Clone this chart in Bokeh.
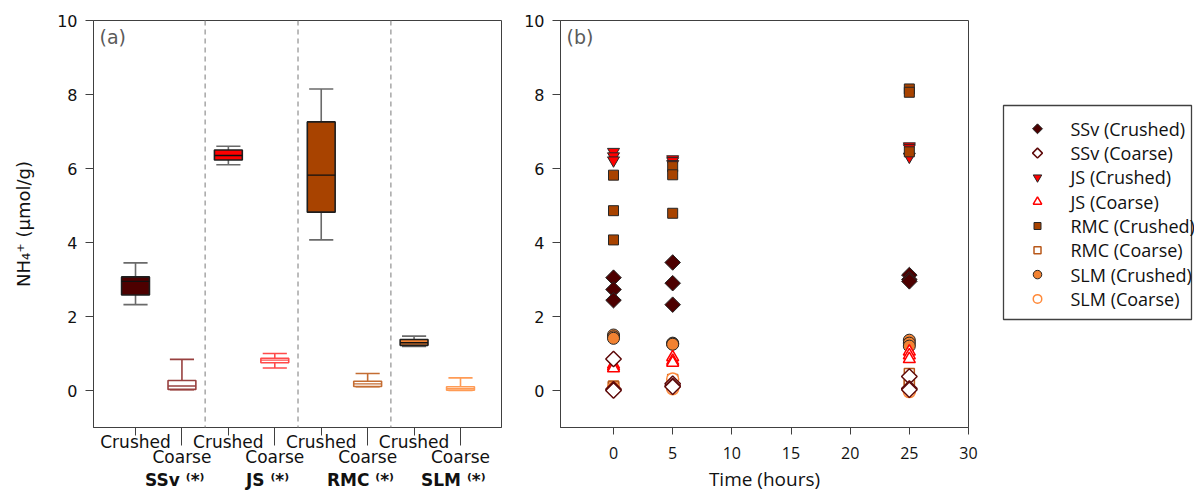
import numpy as np
from bokeh.plotting import figure
from bokeh.layouts import row
from bokeh.models import (Range1d, FixedTicker, Label, Span, ColumnDataSource,
                          CustomJSTickFormatter, LinearAxis)
from bokeh.core.properties import value
from bokeh.embed import file_html
from bokeh.resources import INLINE

# ------------------------------------------------------------------ data
materials = ["SSv", "JS", "RMC", "SLM"]
textures = ["Crushed", "Coarse"]
group_note = "\u207d*\u207e"   # (*) in superscript

# panel (a) box statistics, order: SSv Cr, SSv Co, JS Cr, JS Co, RMC Cr, RMC Co, SLM Cr, SLM Co
box_upper  = [3.45, 0.84, 6.60, 1.00, 8.15, 0.46, 1.47, 0.34]
box_q3     = [3.07, 0.27, 6.50, 0.87, 7.26, 0.25, 1.38, 0.10]
box_median = [2.95, 0.12, 6.35, 0.82, 5.82, 0.18, 1.29, 0.05]
box_q1     = [2.58, 0.03, 6.23, 0.75, 4.82, 0.11, 1.22, 0.01]
box_lower  = [2.32, 0.02, 6.10, 0.61, 4.07, 0.10, 1.19, 0.00]

# panel (b) replicate values at each time
times = [0, 5, 25]
ssv_crushed = [[3.05, 2.73, 2.44], [3.46, 2.90, 2.32], [3.12, 3.00, 2.95]]
ssv_coarse  = [[0.85, 0.03, 0.00], [0.18, 0.12, 0.10], [0.38, 0.05, 0.02]]
js_crushed  = [[6.45, 6.33, 6.22], [6.25, 6.20, 6.12], [6.60, 6.55, 6.32]]
js_coarse   = [[0.70, 0.65, 0.60], [0.90, 0.80, 0.75], [1.05, 0.95, 0.85]]
rmc_crushed = [[5.82, 4.86, 4.07], [6.05, 5.83, 4.79], [8.15, 8.06, 6.45]]
rmc_coarse  = [[0.12, 0.10, 0.10], [0.30, 0.20, 0.17], [0.46, 0.28, 0.15]]
slm_crushed = [[1.50, 1.45, 1.41], [1.28, 1.26, 1.25], [1.36, 1.28, 1.20]]
slm_coarse  = [[0.06, 0.05, 0.03], [0.31, 0.08, 0.05], [0.02, 0.00, -0.03]]

y_ticks = [0, 2, 4, 6, 8, 10]
time_ticks = [0, 5, 10, 15, 20, 25, 30]

# ------------------------------------------------------------------ styles
crushed_fill = {"SSv": "#4d0000", "JS": "#ff0000", "RMC": "#a84300", "SLM": "#f28232"}
coarse_box = {"SSv": "#98403f", "JS": "#ff4a4a", "RMC": "#c46d33", "SLM": "#ff9b55"}
coarse_mark = {"SSv": "#5e0a0a", "JS": "#ff0000", "RMC": "#b8581a", "SLM": "#ff8a3a"}
# marker, angle, plot size, legend size
marker_crushed = {"SSv": ("square", np.pi / 4, 11, 7), "JS": ("inverted_triangle", 0, 12, 8.5),
                  "RMC": ("square", 0, 10, 7), "SLM": ("circle", 0, 12, 8.5)}
marker_coarse = {"SSv": ("square", np.pi / 4, 11, 7), "JS": ("triangle", 0, 12, 8.5),
                 "RMC": ("square", 0, 10, 7), "SLM": ("circle", 0, 12, 8.5)}
AX = "#404040"
TXT = "#111111"
FONT_V = "DejaVu Sans"
FONT_C = "Open Sans"

Y_LO, Y_HI = -1, 10
H = 494
MB_TOP, MB_BOTTOM = 20, 67
XA_LO, XA_HI = 0.095, 8.883
XB_LO, XB_HI = -4.48, 30
FRAME_H = H - MB_TOP - MB_BOTTOM


def y_from_top(px):   # px measured downward from the frame top
    return Y_HI - px * (Y_HI - Y_LO) / FRAME_H


def style_y_axis(p):
    p.yaxis.ticker = FixedTicker(ticks=y_ticks)
    p.yaxis.major_tick_out = 8
    p.yaxis.major_tick_in = 0
    p.yaxis.minor_tick_line_color = None
    p.yaxis.major_tick_line_color = AX
    p.yaxis.axis_line_color = AX
    p.yaxis.major_label_text_font = FONT_V
    p.yaxis.major_label_text_font_size = "16px"
    p.yaxis.major_label_text_color = TXT
    p.yaxis.major_label_standoff = 8


def base_fig(width, x_range, mbl, mbr):
    p = figure(width=width, height=H, x_range=x_range, y_range=Range1d(Y_LO, Y_HI),
               output_backend="svg", toolbar_location=None,
               min_border_left=mbl, min_border_right=mbr, min_border_top=MB_TOP,
               min_border_bottom=MB_BOTTOM)
    p.xgrid.grid_line_color = None
    p.ygrid.grid_line_color = None
    p.outline_line_color = AX
    p.outline_line_width = 1
    return p

# ------------------------------------------------------------------ panel (a)
p1 = base_fig(520, Range1d(XA_LO, XA_HI), 93, 19)

pos = np.arange(1, 9)
mats = [m for m in materials for _ in textures]
texs = [t for _ in materials for t in textures]
fills = [crushed_fill[m] if t == "Crushed" else "white" for m, t in zip(mats, texs)]
edges = ["#1e1e1e" if t == "Crushed" else coarse_box[m] for m, t in zip(mats, texs)]
wcols = ["#6a6a6a" if t == "Crushed" else coarse_box[m] for m, t in zip(mats, texs)]
mcols = ["#111111" if t == "Crushed" else coarse_box[m] for m, t in zip(mats, texs)]

src = ColumnDataSource(dict(x=pos, up=box_upper, q3=box_q3, med=box_median, q1=box_q1, lo=box_lower,
                            cl=pos - 0.26, cr=pos + 0.26, bl=pos - 0.3, br=pos + 0.3,
                            fill=fills, edge=edges, wcol=wcols, mcol=mcols))

for sep in (pos[1:-1:2] + 0.5):
    p1.add_layout(Span(location=sep, dimension="height", line_color="#a6a6a6",
                       line_width=1.5, line_dash="5 4"))

p1.segment("x", "q3", "x", "up", source=src, line_color="wcol", line_width=1.6)
p1.segment("x", "q1", "x", "lo", source=src, line_color="wcol", line_width=1.6)
p1.segment("cl", "up", "cr", "up", source=src, line_color="wcol", line_width=1.6)
p1.segment("cl", "lo", "cr", "lo", source=src, line_color="wcol", line_width=1.6)
p1.vbar(x="x", width=0.6, bottom="q1", top="q3", source=src, fill_color="fill",
        line_color="edge", line_width=1.6)
p1.segment("bl", "med", "br", "med", source=src, line_color="mcol", line_width=1.4)

crushed_pos = [float(x) for x, t in zip(pos, texs) if t == "Crushed"]
coarse_pos = [float(x) for x, t in zip(pos, texs) if t == "Coarse"]

# first axis: Crushed labels, short ticks at crushed, long (minor) ticks at coarse
ax = p1.xaxis[0]
ax.ticker = FixedTicker(ticks=crushed_pos, minor_ticks=coarse_pos)
ax.formatter = CustomJSTickFormatter(args=dict(names=["Crushed"] * len(crushed_pos)),
                                     code="return names[index]")
ax.major_tick_out = 8
ax.major_tick_in = 0
ax.minor_tick_out = 18
ax.minor_tick_in = 0
ax.major_tick_line_color = AX
ax.minor_tick_line_color = AX
ax.axis_line_color = AX
ax.major_label_text_font = FONT_V
ax.major_label_text_font_size = "17px"
ax.major_label_text_color = TXT
ax.major_label_standoff = -14

# second axis: Coarse labels
ax2 = LinearAxis(ticker=FixedTicker(ticks=coarse_pos, minor_ticks=[]),
                 formatter=CustomJSTickFormatter(args=dict(names=["Coarse"] * len(coarse_pos)),
                                                 code="return names[index]"),
                 axis_line_color=None, major_tick_line_color=None, minor_tick_line_color=None,
                 major_tick_out=0, major_tick_in=0, minor_tick_out=0, minor_tick_in=0,
                 major_label_text_font=FONT_V, major_label_text_font_size="17px",
                 major_label_text_color=TXT, major_label_standoff=-8)
p1.add_layout(ax2, "below")

# third axis: material group labels
group_centers = [float(pos[2 * i] + pos[2 * i + 1]) / 2 for i in range(len(materials))]
shift = 16 * (XA_HI - XA_LO) / 408   # label sits a little right of the group centre
ax3 = LinearAxis(ticker=FixedTicker(ticks=[g + shift for g in group_centers], minor_ticks=[]),
                 formatter=CustomJSTickFormatter(args=dict(names=[f"{m} {group_note}" for m in materials]),
                                                 code="return names[index]"),
                 axis_line_color=None, major_tick_line_color=None, minor_tick_line_color=None,
                 major_tick_out=0, major_tick_in=0, minor_tick_out=0, minor_tick_in=0,
                 major_label_text_font=FONT_V, major_label_text_font_size="17px",
                 major_label_text_font_style="bold",
                 major_label_text_color=TXT, major_label_standoff=0)
p1.add_layout(ax3, "below")

style_y_axis(p1)
p1.yaxis.axis_label = "NH\u2084\u207a (\u00b5mol/g)"
p1.yaxis.axis_label_text_font = FONT_V
p1.yaxis.axis_label_text_font_size = "18px"
p1.yaxis.axis_label_text_font_style = "normal"
p1.yaxis.axis_label_text_color = TXT
p1.yaxis.axis_label_standoff = 20

p1.add_layout(Label(x=XA_LO + 6 * (XA_HI - XA_LO) / 408, y=y_from_top(16), text="(a)",
                    text_align="left", text_baseline="middle", text_font=FONT_V,
                    text_font_size="19px", text_color="#5a5a5a"))

# ------------------------------------------------------------------ panel (b)
p2 = base_fig(470, Range1d(XB_LO, XB_HI), 40, 22)

series = {
    ("SSv", "Crushed"): ssv_crushed, ("SSv", "Coarse"): ssv_coarse,
    ("JS", "Crushed"): js_crushed, ("JS", "Coarse"): js_coarse,
    ("RMC", "Crushed"): rmc_crushed, ("RMC", "Coarse"): rmc_coarse,
    ("SLM", "Crushed"): slm_crushed, ("SLM", "Coarse"): slm_coarse,
}
draw_order = [("JS", "Crushed"), ("RMC", "Crushed"), ("SSv", "Crushed"), ("SLM", "Crushed"),
              ("JS", "Coarse"), ("RMC", "Coarse"), ("SLM", "Coarse"), ("SSv", "Coarse")]


def mstyle(m, t):
    if t == "Crushed":
        mk, ang, sz, lsz = marker_crushed[m]
        return mk, ang, sz, lsz, crushed_fill[m], "#262626", 1.0
    mk, ang, sz, lsz = marker_coarse[m]
    return mk, ang, sz, lsz, "white", coarse_mark[m], 1.5


for m, t in draw_order:
    vals = series[(m, t)]
    xs = [tt for tt, reps in zip(times, vals) for _ in reps]
    ys = [v for reps in vals for v in reps]
    mk, ang, sz, lsz, fc, lc, lw = mstyle(m, t)
    p2.scatter(x=xs, y=ys, marker=mk, angle=ang, size=sz, fill_color=fc, line_color=lc,
               line_width=lw)

p2.xaxis.ticker = FixedTicker(ticks=time_ticks)
p2.xaxis.major_tick_out = 7
p2.xaxis.major_tick_in = 0
p2.xaxis.minor_tick_line_color = None
p2.xaxis.major_tick_line_color = AX
p2.xaxis.axis_line_color = AX
p2.xaxis.major_label_text_font = FONT_C
p2.xaxis.major_label_text_font_size = "16px"
p2.xaxis.major_label_text_color = TXT
p2.xaxis.major_label_standoff = 12
p2.xaxis.axis_label = "Time (hours)"
p2.xaxis.axis_label_text_font = FONT_C
p2.xaxis.axis_label_text_font_size = "19px"
p2.xaxis.axis_label_text_font_style = "normal"
p2.xaxis.axis_label_text_color = TXT
p2.xaxis.axis_label_standoff = 4
style_y_axis(p2)

p2.add_layout(Label(x=XB_LO + 6 * (XB_HI - XB_LO) / 408, y=y_from_top(16), text="(b)",
                    text_align="left", text_baseline="middle", text_font=FONT_V,
                    text_font_size="19px", text_color="#5a5a5a"))

# ------------------------------------------------------------------ legend panel
# the legend panel uses page-pixel coordinates (x from 990 to 1194, y downward)
LEG_X0, LEG_W = 990, 204
p3 = figure(width=LEG_W, height=H, x_range=Range1d(LEG_X0, LEG_X0 + LEG_W),
            y_range=Range1d(MB_TOP + FRAME_H, MB_TOP),
            output_backend="svg", toolbar_location=None, x_axis_location=None,
            y_axis_location=None, min_border_left=0, min_border_right=0,
            min_border_top=MB_TOP, min_border_bottom=MB_BOTTOM)
p3.xgrid.grid_line_color = None
p3.ygrid.grid_line_color = None
p3.outline_line_color = None

box_left, box_right, box_top, box_bottom = 1003, 1191, 105, 319
row_h = 24.3
first_row = 128.3
p3.quad(left=[box_left], right=[box_right], top=[box_top], bottom=[box_bottom],
        fill_color=None, line_color=AX, line_width=1.3)

leg_rows = [(m, t) for m in materials for t in textures]
lmk, lang, lsz, lfc, llc, llw, ltxt = [], [], [], [], [], [], []
for m, t in leg_rows:
    mk, ang, sz, ls, fc, lc, lw = mstyle(m, t)
    lmk.append(mk); lang.append(ang); lsz.append(ls); lfc.append(fc); llc.append(lc)
    llw.append(lw); ltxt.append(f"{m} ({t})")
ys_leg = [first_row + i * row_h for i in range(len(leg_rows))]
lsrc = ColumnDataSource(dict(x=[1037] * len(ys_leg), tx=[1070] * len(ys_leg), y=ys_leg,
                             mk=lmk, ang=lang, sz=lsz, fc=lfc, lc=llc, lw=llw, txt=ltxt))
p3.scatter(x="x", y="y", marker="mk", angle="ang", size="sz", fill_color="fc",
           line_color="lc", line_width="lw", source=lsrc)
p3.text(x="tx", y="y", text="txt", source=lsrc, text_font=value(FONT_C),
        text_font_size=value("18px"), text_baseline="middle", text_color=TXT)

layout = row(p1, p2, p3)
open("out.html", "w").write(file_html(layout, INLINE))
